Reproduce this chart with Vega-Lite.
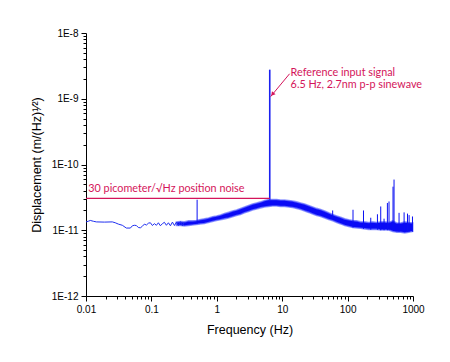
{
  "$schema": "https://vega.github.io/schema/vega-lite/v6.json",
  "width": 327,
  "height": 263,
  "autosize": {"type": "none"},
  "padding": {"left": 86, "top": 33, "right": 37, "bottom": 66},
  "background": "white",
  "config": {
    "view": {"stroke": null},
    "axis": {
      "grid": false,
      "domainColor": "#000000",
      "domainWidth": 1,
      "tickColor": "#000000",
      "tickWidth": 1,
      "labelColor": "#000000",
      "labelFont": "Liberation Sans",
      "labelFontSize": 10,
      "titleFont": "Liberation Sans",
      "titleFontSize": 12.5,
      "titleFontWeight": "normal",
      "titleColor": "#000000",
      "labelOverlap": false,
      "labelBound": false,
      "labelFlush": false
    }
  },
  "datasets": {
    "band": [
      {"f": 0.241, "v": 1.18e-11, "v2": 1.34e-11},
      {"f": 0.278, "v": 1.18e-11, "v2": 1.36e-11},
      {"f": 0.320, "v": 1.16e-11, "v2": 1.34e-11},
      {"f": 0.369, "v": 1.18e-11, "v2": 1.39e-11},
      {"f": 0.425, "v": 1.20e-11, "v2": 1.39e-11},
      {"f": 0.489, "v": 1.22e-11, "v2": 1.41e-11},
      {"f": 0.563, "v": 1.25e-11, "v2": 1.46e-11},
      {"f": 0.648, "v": 1.27e-11, "v2": 1.49e-11},
      {"f": 0.746, "v": 1.31e-11, "v2": 1.54e-11},
      {"f": 0.859, "v": 1.36e-11, "v2": 1.60e-11},
      {"f": 0.989, "v": 1.41e-11, "v2": 1.65e-11},
      {"f": 1.139, "v": 1.44e-11, "v2": 1.71e-11},
      {"f": 1.312, "v": 1.49e-11, "v2": 1.80e-11},
      {"f": 1.511, "v": 1.54e-11, "v2": 1.87e-11},
      {"f": 1.739, "v": 1.60e-11, "v2": 1.96e-11},
      {"f": 2.003, "v": 1.68e-11, "v2": 2.03e-11},
      {"f": 2.307, "v": 1.74e-11, "v2": 2.14e-11},
      {"f": 2.656, "v": 1.84e-11, "v2": 2.26e-11},
      {"f": 3.059, "v": 1.93e-11, "v2": 2.38e-11},
      {"f": 3.522, "v": 2.03e-11, "v2": 2.50e-11},
      {"f": 4.055, "v": 2.11e-11, "v2": 2.60e-11},
      {"f": 4.670, "v": 2.19e-11, "v2": 2.70e-11},
      {"f": 5.377, "v": 2.26e-11, "v2": 2.83e-11},
      {"f": 6.191, "v": 2.30e-11, "v2": 2.94e-11},
      {"f": 7.129, "v": 2.34e-11, "v2": 2.94e-11},
      {"f": 8.208, "v": 2.34e-11, "v2": 2.94e-11},
      {"f": 9.452, "v": 2.30e-11, "v2": 2.89e-11},
      {"f": 10.88, "v": 2.30e-11, "v2": 2.89e-11},
      {"f": 12.53, "v": 2.26e-11, "v2": 2.84e-11},
      {"f": 14.43, "v": 2.22e-11, "v2": 2.79e-11},
      {"f": 16.61, "v": 2.15e-11, "v2": 2.70e-11},
      {"f": 19.13, "v": 2.07e-11, "v2": 2.60e-11},
      {"f": 22.03, "v": 1.96e-11, "v2": 2.51e-11},
      {"f": 25.37, "v": 1.87e-11, "v2": 2.38e-11},
      {"f": 29.21, "v": 1.77e-11, "v2": 2.26e-11},
      {"f": 33.63, "v": 1.68e-11, "v2": 2.15e-11},
      {"f": 38.73, "v": 1.62e-11, "v2": 2.07e-11},
      {"f": 44.59, "v": 1.54e-11, "v2": 1.96e-11},
      {"f": 51.35, "v": 1.46e-11, "v2": 1.84e-11},
      {"f": 59.13, "v": 1.39e-11, "v2": 1.74e-11},
      {"f": 68.08, "v": 1.31e-11, "v2": 1.65e-11},
      {"f": 78.39, "v": 1.25e-11, "v2": 1.57e-11},
      {"f": 90.27, "v": 1.18e-11, "v2": 1.49e-11},
      {"f": 103.9, "v": 1.14e-11, "v2": 1.44e-11},
      {"f": 119.7, "v": 1.10e-11, "v2": 1.41e-11},
      {"f": 137.8, "v": 1.085e-11, "v2": 1.39e-11},
      {"f": 158.7, "v": 1.07e-11, "v2": 1.34e-11},
      {"f": 182.7, "v": 1.05e-11, "v2": 1.34e-11},
      {"f": 210.4, "v": 1.03e-11, "v2": 1.31e-11},
      {"f": 242.3, "v": 1.03e-11, "v2": 1.34e-11},
      {"f": 279.0, "v": 1.03e-11, "v2": 1.31e-11},
      {"f": 321.3, "v": 1.01e-11, "v2": 1.34e-11},
      {"f": 369.9, "v": 1.01e-11, "v2": 1.34e-11},
      {"f": 426.0, "v": 1.01e-11, "v2": 1.31e-11},
      {"f": 490.5, "v": 9.6e-12, "v2": 1.39e-11},
      {"f": 564.8, "v": 9.3e-12, "v2": 1.29e-11},
      {"f": 650.3, "v": 9.3e-12, "v2": 1.29e-11},
      {"f": 748.8, "v": 9.1e-12, "v2": 1.34e-11},
      {"f": 862.3, "v": 9.3e-12, "v2": 1.31e-11},
      {"f": 992.9, "v": 9.6e-12, "v2": 1.29e-11}
    ],
    "low": [
      {"f": 0.01, "v": 1.34e-11},
      {"f": 0.01084, "v": 1.37e-11},
      {"f": 0.01164, "v": 1.41e-11},
      {"f": 0.01294, "v": 1.37e-11},
      {"f": 0.01438, "v": 1.34e-11},
      {"f": 0.01907, "v": 1.33e-11},
      {"f": 0.02528, "v": 1.34e-11},
      {"f": 0.0280, "v": 1.30e-11},
      {"f": 0.03124, "v": 1.24e-11},
      {"f": 0.03596, "v": 1.19e-11},
      {"f": 0.0414, "v": 1.08e-11},
      {"f": 0.0477, "v": 1.08e-11},
      {"f": 0.0512, "v": 1.17e-11},
      {"f": 0.0549, "v": 1.19e-11},
      {"f": 0.0589, "v": 1.18e-11},
      {"f": 0.0632, "v": 1.10e-11},
      {"f": 0.0679, "v": 1.09e-11},
      {"f": 0.0728, "v": 1.15e-11},
      {"f": 0.0781, "v": 1.24e-11},
      {"f": 0.0839, "v": 1.20e-11},
      {"f": 0.0900, "v": 1.28e-11},
      {"f": 0.0965, "v": 1.30e-11},
      {"f": 0.1036, "v": 1.18e-11},
      {"f": 0.1112, "v": 1.26e-11},
      {"f": 0.1193, "v": 1.19e-11},
      {"f": 0.1280, "v": 1.30e-11},
      {"f": 0.1373, "v": 1.17e-11},
      {"f": 0.1474, "v": 1.26e-11},
      {"f": 0.1581, "v": 1.32e-11},
      {"f": 0.1697, "v": 1.19e-11},
      {"f": 0.1821, "v": 1.30e-11},
      {"f": 0.1954, "v": 1.17e-11},
      {"f": 0.2097, "v": 1.33e-11},
      {"f": 0.2250, "v": 1.18e-11},
      {"f": 0.2414, "v": 1.33e-11},
      {"f": 0.2591, "v": 1.18e-11},
      {"f": 0.2780, "v": 1.35e-11},
      {"f": 0.2983, "v": 1.17e-11},
      {"f": 0.3201, "v": 1.34e-11}
    ],
    "spikes": [
      {"f": 0.5, "v": 1.25e-11, "v2": 2.91e-11},
      {"f": 59.1, "v": 1.5e-11, "v2": 2.0e-11},
      {"f": 121, "v": 1.1e-11, "v2": 2.05e-11},
      {"f": 175, "v": 1.05e-11, "v2": 2.0e-11},
      {"f": 226, "v": 1.02e-11, "v2": 1.55e-11},
      {"f": 286, "v": 1.02e-11, "v2": 1.75e-11},
      {"f": 321, "v": 1.0e-11, "v2": 2.3e-11},
      {"f": 361, "v": 1.0e-11, "v2": 1.5e-11},
      {"f": 406, "v": 1.0e-11, "v2": 2.6e-11},
      {"f": 430, "v": 1.0e-11, "v2": 2.74e-11},
      {"f": 495, "v": 1.0e-11, "v2": 4.6e-11},
      {"f": 513, "v": 1.0e-11, "v2": 5.9e-11},
      {"f": 612, "v": 9.5e-12, "v2": 1.84e-11},
      {"f": 731, "v": 9.5e-12, "v2": 1.87e-11},
      {"f": 824, "v": 9.5e-12, "v2": 1.79e-11},
      {"f": 872, "v": 9.5e-12, "v2": 1.7e-11},
      {"f": 982, "v": 9.5e-12, "v2": 1.62e-11}
    ],
    "main": [
      {"f": 6.45, "v": 2.9e-11, "v2": 2.77e-9}
    ],
    "ref": [
      {"f": 0.01, "v": 3.05e-11},
      {"f": 6.45, "v": 3.05e-11}
    ],
    "arrow": [
      {"f": 12.98, "v": 2.40e-9},
      {"f": 6.64, "v": 1.075e-9}
    ],
    "head": [
      {"f": 7.1, "v": 1.17e-9}
    ],
    "notes": [
      {"f": 0.01084, "v": 3.86e-11, "label": "30 picometer/√Hz position noise"},
      {"f": 13.45, "v": 2.24e-9, "label": "Reference input signal"},
      {"f": 13.45, "v": 1.457e-9, "label": "6.5 Hz, 2.7nm p-p sinewave"}
    ]
  },
  "layer": [
    {
      "data": {"name": "band"},
      "mark": {"type": "area", "color": "#0a0af5", "opacity": 1, "stroke": "#6a74ff", "strokeWidth": 1.6, "strokeOpacity": 0.7},
      "encoding": {
        "x": {
          "field": "f",
          "type": "quantitative",
          "scale": {"type": "log", "domain": [0.01, 1000], "nice": false},
          "axis": {
            "title": "Frequency (Hz)",
            "values": [0.01, 0.02, 0.03, 0.04, 0.05, 0.06, 0.07, 0.08, 0.09, 0.1, 0.2, 0.3, 0.4, 0.5, 0.6, 0.7, 0.8, 0.9, 1, 2, 3, 4, 5, 6, 7, 8, 9, 10, 20, 30, 40, 50, 60, 70, 80, 90, 100, 200, 300, 400, 500, 600, 700, 800, 900, 1000],
            "labelExpr": "abs(log(datum.value)/LN10 - round(log(datum.value)/LN10)) < 0.01 ? format(datum.value, '~g') : ''",
            "tickSize": {"condition": {"test": "abs(log(datum.value)/LN10 - round(log(datum.value)/LN10)) < 0.01", "value": 5}, "value": 3},
            "labelPadding": 3,
            "titlePadding": 9
          }
        },
        "y": {
          "field": "v",
          "type": "quantitative",
          "scale": {"type": "log", "domain": [1e-12, 1e-8], "nice": false},
          "axis": {
            "title": "Displacement (m/(Hz)¹⁄²)",
            "values": [1e-12, 2e-12, 3e-12, 4e-12, 5e-12, 6e-12, 7e-12, 8e-12, 9e-12, 1e-11, 2e-11, 3e-11, 4e-11, 5e-11, 6e-11, 7e-11, 8e-11, 9e-11, 1e-10, 2e-10, 3e-10, 4e-10, 5e-10, 6e-10, 7e-10, 8e-10, 9e-10, 1e-9, 2e-9, 3e-9, 4e-9, 5e-9, 6e-9, 7e-9, 8e-9, 9e-9, 1e-8],
            "labelExpr": "abs(log(datum.value)/LN10 - round(log(datum.value)/LN10)) < 0.01 ? '1E' + round(log(datum.value)/LN10) : ''",
            "tickSize": {"condition": {"test": "abs(log(datum.value)/LN10 - round(log(datum.value)/LN10)) < 0.01", "value": 5}, "value": 3},
            "labelPadding": 3,
            "titlePadding": 8
          }
        },
        "y2": {"field": "v2"}
      }
    },
    {
      "data": {"name": "low"},
      "mark": {"type": "line", "color": "#2030f0", "strokeWidth": 1},
      "encoding": {
        "x": {"field": "f", "type": "quantitative"},
        "y": {"field": "v", "type": "quantitative"}
      }
    },
    {
      "data": {"name": "spikes"},
      "mark": {"type": "rule", "color": "#0a10f2", "strokeWidth": 1},
      "encoding": {
        "x": {"field": "f", "type": "quantitative"},
        "y": {"field": "v", "type": "quantitative"},
        "y2": {"field": "v2"}
      }
    },
    {
      "data": {"name": "main"},
      "mark": {"type": "rule", "color": "#1a20f0", "strokeWidth": 1.6},
      "encoding": {
        "x": {"field": "f", "type": "quantitative"},
        "y": {"field": "v", "type": "quantitative"},
        "y2": {"field": "v2"}
      }
    },
    {
      "data": {"name": "ref"},
      "mark": {"type": "line", "color": "#d4145a", "strokeWidth": 1.2},
      "encoding": {
        "x": {"field": "f", "type": "quantitative"},
        "y": {"field": "v", "type": "quantitative"}
      }
    },
    {
      "data": {"name": "arrow"},
      "mark": {"type": "line", "color": "#d4145a", "strokeWidth": 1},
      "encoding": {
        "x": {"field": "f", "type": "quantitative"},
        "y": {"field": "v", "type": "quantitative"}
      }
    },
    {
      "data": {"name": "head"},
      "mark": {"type": "point", "shape": "triangle-up", "filled": true, "color": "#d4145a", "opacity": 1, "size": 22, "angle": 220},
      "encoding": {
        "x": {"field": "f", "type": "quantitative"},
        "y": {"field": "v", "type": "quantitative"}
      }
    },
    {
      "data": {"name": "notes"},
      "mark": {"type": "text", "align": "left", "baseline": "alphabetic", "font": "Lato", "fontSize": 10.8, "color": "#d4145a"},
      "encoding": {
        "x": {"field": "f", "type": "quantitative"},
        "y": {"field": "v", "type": "quantitative"},
        "text": {"field": "label"}
      }
    }
  ]
}
